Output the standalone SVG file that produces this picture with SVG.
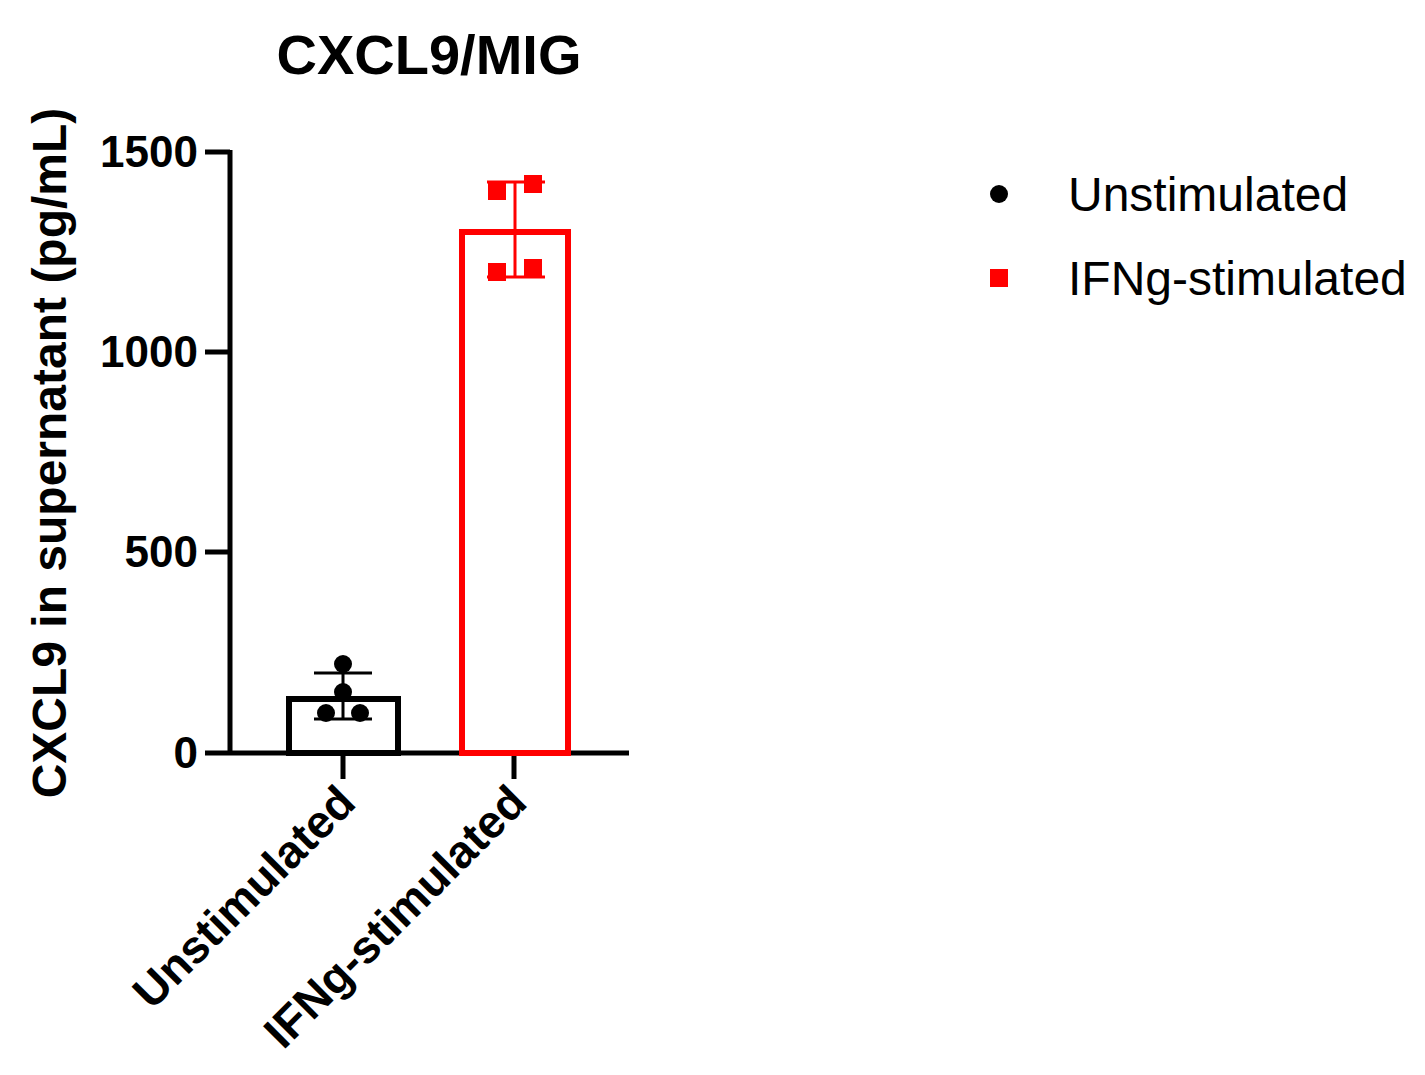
<svg xmlns="http://www.w3.org/2000/svg" width="1425" height="1075" viewBox="0 0 1425 1075">
<style>
text{font-family:"Liberation Sans",Arial,sans-serif}
.b{font-weight:bold;fill:#000}
.ax{stroke:#000;stroke-width:5;fill:none}
.tk{font-size:44px;font-weight:bold;text-anchor:end}
.xl{font-size:46px;font-weight:bold;text-anchor:end}
.lg{font-size:48px}
</style>
<rect width="1425" height="1075" fill="#fff"/>
<text x="429" y="74" class="b" font-size="56" text-anchor="middle">CXCL9/MIG</text>
<text class="b" font-size="48" text-anchor="middle" transform="translate(66,453) rotate(-90)">CXCL9 in supernatant (pg/mL)</text>
<g id="axes">
<path class="ax" d="M230,150 V753 H629 M205,152 H230 M205,352 H230 M205,552 H230 M205,753 H230 M343,753 V779 M514,753 V779"/>
<text x="198" y="167" class="tk">1500</text>
<text x="198" y="367" class="tk">1000</text>
<text x="198" y="567" class="tk">500</text>
<text x="198" y="768" class="tk">0</text>
<text class="xl" transform="translate(358,805) rotate(-45)">Unstimulated</text>
<text class="xl" transform="translate(529,805) rotate(-45)">IFNg-stimulated</text>
</g>
<g id="bar-unstim">
<rect x="289" y="699" width="109" height="54" fill="none" stroke="#000" stroke-width="6"/>
<path d="M343,673 V719 M314,673 H372 M314,719 H372" stroke="#000" stroke-width="3"/>
<circle cx="343" cy="664" r="9"/><circle cx="343" cy="692" r="9"/><circle cx="326" cy="713" r="9"/><circle cx="360" cy="713" r="9"/>
</g>
<g id="bar-ifng">
<rect x="462" y="232" width="106" height="521" fill="none" stroke="#f00" stroke-width="6"/>
<path d="M515,182 V277 M487,182 H545 M487,277 H545" stroke="#f00" stroke-width="3"/>
<g fill="#f00"><rect x="488" y="182" width="18" height="18"/><rect x="524" y="175" width="18" height="18"/><rect x="488" y="263" width="18" height="18"/><rect x="524" y="259" width="18" height="18"/></g>
</g>
<g id="legend">
<circle cx="999" cy="194" r="9"/>
<text x="1068" y="211" class="lg">Unstimulated</text>
<rect x="990" y="269" width="18" height="18" fill="#f00"/>
<text x="1068" y="295" class="lg">IFNg-stimulated</text>
</g>
</svg>
